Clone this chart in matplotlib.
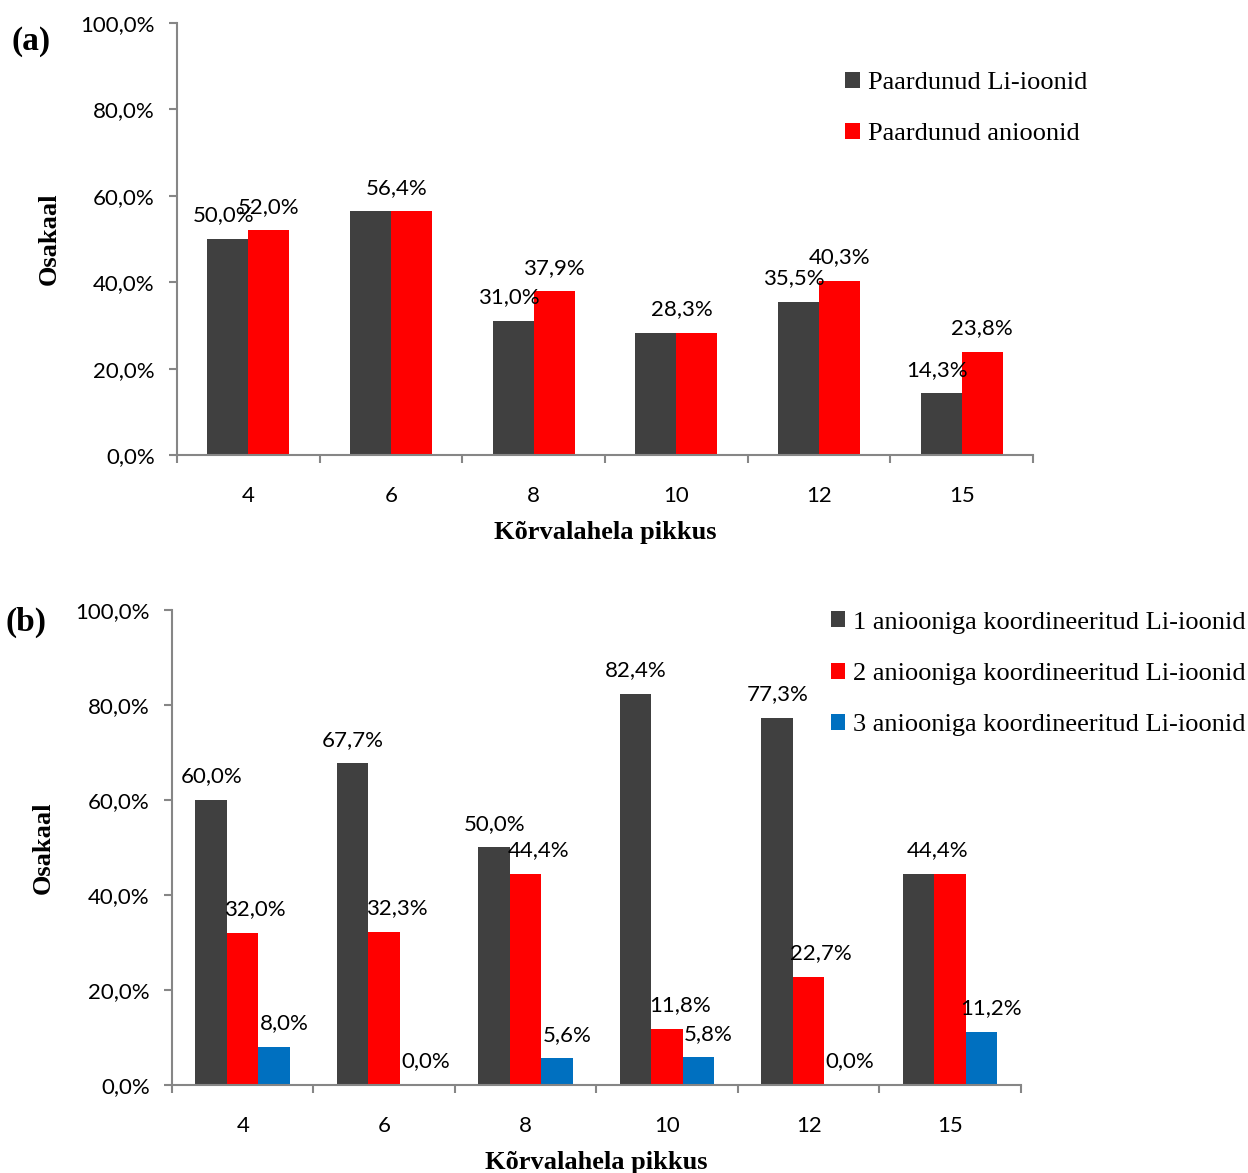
import numpy as np
import matplotlib
matplotlib.use("Agg")
import matplotlib.pyplot as plt
from matplotlib.ticker import FuncFormatter, FixedLocator

# Data
chain_lengths = ["4", "6", "8", "10", "12", "15"]

paired_li = [50.0, 56.4, 31.0, 28.3, 35.5, 14.3]
paired_anion = [52.0, 56.4, 37.9, 28.3, 40.3, 23.8]
labels_a = ["Paardunud Li-ioonid", "Paardunud anioonid"]

coord_1 = [60.0, 67.7, 50.0, 82.4, 77.3, 44.4]
coord_2 = [32.0, 32.3, 44.4, 11.8, 22.7, 44.4]
coord_3 = [8.0, 0.0, 5.6, 5.8, 0.0, 11.2]
labels_b = ["1 aniooniga koordineeritud Li-ioonid",
            "2 aniooniga koordineeritud Li-ioonid",
            "3 aniooniga koordineeritud Li-ioonid"]

DARK = "#404040"
RED = "#FF0000"
BLUE = "#0070C0"
SPINE = "#868686"
NUM_FONT = "Lato"
SERIF = "Liberation Serif"
NUM_SIZE = 16


def pct(v):
    return f"{v:.1f}%".replace(".", ",")


def style_axes(ax, n):
    ax.set_xlim(-0.5, n - 0.5)
    ax.set_ylim(0, 100)
    for side in ("top", "right"):
        ax.spines[side].set_visible(False)
    for side in ("left", "bottom"):
        ax.spines[side].set_color(SPINE)
        ax.spines[side].set_linewidth(1.5)
    ax.set_yticks(np.arange(0, 101, 20))
    ax.yaxis.set_major_formatter(FuncFormatter(lambda v, p: pct(v)))
    # category boundary ticks, labels in the middle
    ax.xaxis.set_major_locator(FixedLocator(np.arange(-0.5, n, 1.0)))
    ax.xaxis.set_major_formatter(FuncFormatter(lambda v, p: ""))
    ax.set_xticks(np.arange(n), labels=chain_lengths, minor=True)
    ax.tick_params(axis="x", which="minor", length=0, pad=22,
                   labelsize=NUM_SIZE)
    ax.tick_params(axis="both", which="major", color=SPINE, width=1.5,
                   length=6, labelsize=NUM_SIZE)
    ax.tick_params(axis="y", pad=10)
    for t in ax.get_xticklabels(minor=True) + ax.get_yticklabels():
        t.set_fontfamily(NUM_FONT)
    ax.set_xlabel("Kõrvalahela pikkus", family=SERIF, fontweight="bold",
                  fontsize=19, labelpad=11)
    ax.set_ylabel("Osakaal", family=SERIF, fontweight="bold", fontsize=19)


def label(ax, x, y, text, dx=0):
    ax.annotate(text, (x, y), xytext=(dx, 17), textcoords="offset points",
                ha="center", va="center", family=NUM_FONT, fontsize=NUM_SIZE)


fig = plt.figure(figsize=(12.48, 11.73), dpi=100)
ax1 = fig.add_axes([0.1418, 0.6121, 0.6859, 0.3683])
ax2 = fig.add_axes([0.1378, 0.0750, 0.6803, 0.4050])

# (a)
x = np.arange(len(chain_lengths))
w = 0.2875
series_a = [paired_li, paired_anion]
colors_a = [DARK, RED]
for i, (vals, col, lab) in enumerate(zip(series_a, colors_a, labels_a)):
    ax1.bar(x + (i - 0.5) * w, vals, w, color=col, label=lab, zorder=2)
for j in range(len(x)):
    if paired_li[j] == paired_anion[j]:
        label(ax1, x[j], paired_li[j], pct(paired_li[j]), dx=4)
    else:
        label(ax1, x[j] - 0.5 * w, paired_li[j], pct(paired_li[j]), dx=-3)
        label(ax1, x[j] + 0.5 * w, paired_anion[j], pct(paired_anion[j]))
style_axes(ax1, len(chain_lengths))
ax1.yaxis.set_label_coords(-0.1355, 0.5)
ax1.legend(loc="upper left", bbox_to_anchor=(0.753, 0.942), frameon=False,
           prop={"family": SERIF, "size": 19}, handlelength=0.55,
           handleheight=0.55, handletextpad=0.3, labelspacing=1.1)

# (b)
w = 0.2226
series_b = [coord_1, coord_2, coord_3]
colors_b = [DARK, RED, BLUE]
shifts = [0, 9, 7]
for i, (vals, col, lab) in enumerate(zip(series_b, colors_b, labels_b)):
    ax2.bar(x + (i - 1) * w, vals, w, color=col, label=lab, zorder=2)
for j in range(len(x)):
    if coord_1[j] == coord_2[j]:
        label(ax2, x[j] - 0.5 * w, coord_1[j], pct(coord_1[j]), dx=2)
        label(ax2, x[j] + w, coord_3[j], pct(coord_3[j]), dx=shifts[2])
        continue
    for i, vals in enumerate(series_b):
        label(ax2, x[j] + (i - 1) * w, vals[j], pct(vals[j]), dx=shifts[i])
style_axes(ax2, len(chain_lengths))
ax2.yaxis.set_label_coords(-0.1377, 0.5)
ax2.legend(loc="upper left", bbox_to_anchor=(0.748, 1.047), frameon=False,
           prop={"family": SERIF, "size": 19}, handlelength=0.55,
           handleheight=0.55, handletextpad=0.3, labelspacing=1.1)

fig.text(0.025, 0.965, "(a)", family=SERIF, fontweight="bold", fontsize=24,
         ha="center", va="center")
fig.text(0.021, 0.469, "(b)", family=SERIF, fontweight="bold", fontsize=24,
         ha="center", va="center")

fig.savefig("out.png", dpi=100)
